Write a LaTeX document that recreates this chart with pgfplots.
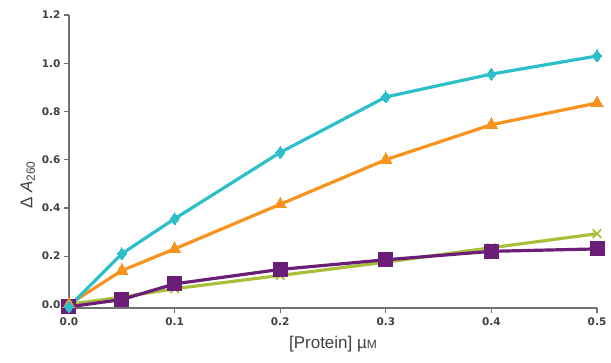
\documentclass[border=0pt]{standalone}
\usepackage{pgfplots}
\pgfplotsset{compat=1.18}
\usepackage{fontspec}
\setmainfont{Liberation Sans}
\newfontfamily\tickfont{DejaVu Sans}
\definecolor{ccyan}{HTML}{2CBFC9}
\definecolor{corange}{HTML}{F7931E}
\definecolor{cgreen}{HTML}{A9BE3A}
\definecolor{cpurple}{HTML}{6B1E78}
\definecolor{caxis}{HTML}{707070}
\definecolor{ctext}{HTML}{404040}
\begin{document}
\begin{tikzpicture}[x=1pt,y=1pt]
\useasboundingbox (-69,-55) rectangle (542,308);
\begin{axis}[
  anchor=south west, at={(0,0)},
  scale only axis, width=528pt, height=293pt,
  xmin=0, xmax=0.5, ymin=-0.015, ymax=1.2,
  axis lines=left, axis line style={-, caxis, line width=1.5pt},
  xtick={0,0.1,0.2,0.3,0.4,0.5}, ytick={0,0.2,0.4,0.6,0.8,1.0,1.2},
  tick style={caxis, line width=1.2pt}, tick align=outside, major tick length=5pt,
  xticklabel style={font=\tickfont\bfseries\fontsize{10.5}{12}\selectfont, text=ctext, yshift=-1pt},
  yticklabel style={font=\tickfont\bfseries\fontsize{10.5}{12}\selectfont, text=ctext, xshift=0pt},
  /pgf/number format/assume math mode=true,
  /pgf/number format/.cd, fixed, fixed zerofill, precision=1, /pgfplots/.cd,
  xlabel={[Protein] µ{\fontsize{12}{13}\selectfont M}},
  ylabel={Δ \textit{A}\textsubscript{260}},
  xlabel style={font=\fontsize{17}{19}\selectfont, text=ctext, yshift=-4pt},
  ylabel style={font=\fontsize{17}{19}\selectfont, text=ctext, at={(ticklabel cs:0.42)}, yshift=0pt},
  clip=false,
  every axis plot/.append style={line width=3.2pt},
]
\addplot[cgreen, mark=x, mark size=6pt, mark options={line width=1.8pt}] coordinates {(0,0) (0.05,0.03) (0.1,0.065) (0.2,0.12) (0.3,0.175) (0.4,0.235) (0.5,0.293)};
\addplot[cpurple, mark=square*, mark size=7pt, mark options={line width=0pt}] coordinates {(0,-0.01) (0.05,0.02) (0.1,0.085) (0.2,0.145) (0.3,0.185) (0.4,0.22) (0.5,0.23)};
\addplot[corange, mark=triangle*, mark size=7pt, mark options={line width=0pt}] coordinates {(0,0) (0.05,0.14) (0.1,0.23) (0.2,0.415) (0.3,0.60) (0.4,0.745) (0.5,0.835)};
\addplot[ccyan, mark=diamond*, mark size=6pt, mark options={line width=0pt}] coordinates {(0,-0.01) (0.05,0.21) (0.1,0.355) (0.2,0.63) (0.3,0.86) (0.4,0.955) (0.5,1.03)};
\end{axis}
\end{tikzpicture}
\end{document}
